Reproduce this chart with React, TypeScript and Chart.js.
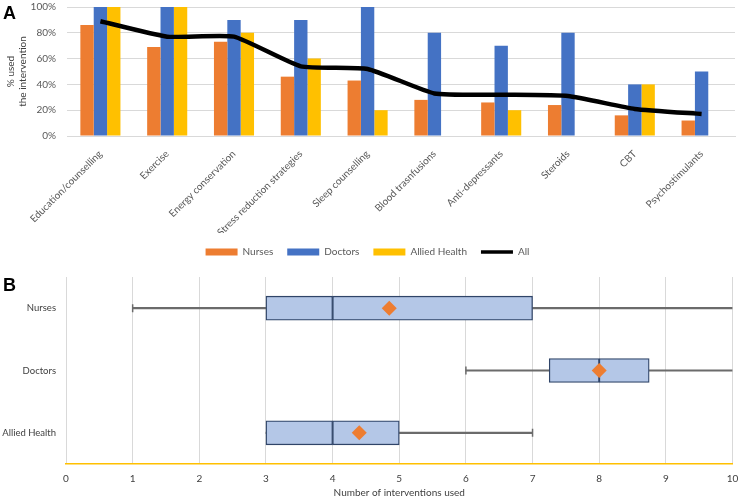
import React, { useEffect, useRef } from 'react';
import { Chart, registerables } from 'chart.js';

Chart.register(...registerables);

// ---------- Panel A data ----------
const categories = [
  'Education/counselling',
  'Exercise',
  'Energy conservation',
  'Stress reduction strategies',
  'Sleep counselling',
  'Blood trasnfusions',
  'Anti-depressants',
  'Steroids',
  'CBT',
  'Psychostimulants',
];
const nurses = [86, 69, 73, 46, 43, 28, 26, 24, 16, 12];
const doctors = [100, 100, 90, 90, 100, 80, 70, 80, 40, 50];
const allied = [100, 100, 80, 60, 20, 0, 20, 0, 40, 0];
const allStaff = [89, 77, 77, 54, 52, 33, 32, 31, 21, 17];
const yTicksA = [0, 20, 40, 60, 80, 100];

// ---------- Panel B data ----------
const groups = ['Nurses', 'Doctors', 'Allied Health'];
const minVals = [1, 6, 3];
const q1Vals = [3, 7.25, 3];
const medianVals = [4, 8, 4];
const q3Vals = [7, 8.75, 5];
const maxVals = [10, 10, 7];
const meanVals = [4.85, 8, 4.4];
const xTicksB = [0, 1, 2, 3, 4, 5, 6, 7, 8, 9, 10];

const FONT = 'Lato, "Open Sans", sans-serif';

export default function App() {
  const refA = useRef<HTMLCanvasElement>(null);
  const refB = useRef<HTMLCanvasElement>(null);

  useEffect(() => {
    const barCommon = { categoryPercentage: 0.6, barPercentage: 1, order: 2, borderWidth: 0 };
    const chartA = new Chart(refA.current as HTMLCanvasElement, {
      type: 'bar',
      data: {
        labels: categories,
        datasets: [
          { label: 'Nurses', data: nurses, backgroundColor: '#ED7D31', ...barCommon } as any,
          { label: 'Doctors', data: doctors, backgroundColor: '#4472C4', ...barCommon } as any,
          { label: 'Allied Health', data: allied, backgroundColor: '#FFC000', ...barCommon } as any,
          {
            type: 'line',
            label: 'All',
            data: allStaff,
            borderColor: '#000000',
            backgroundColor: '#000000',
            borderWidth: 4.5,
            pointRadius: 0,
            tension: 0.15,
            order: 1,
          } as any,
        ],
      },
      options: {
        animation: false,
        responsive: false,
        layout: { padding: { top: 7, right: 5, left: 0, bottom: 0 } },
        plugins: {
          tooltip: { enabled: false },
          legend: {
            position: 'bottom',
            labels: {
              usePointStyle: true,
              pointStyleWidth: 32,
              boxHeight: 7,
              padding: 14,
              color: '#595959',
              font: { family: FONT, size: 10 },
              sort: (a: any, b: any) => a.datasetIndex - b.datasetIndex,
              generateLabels: (chart: any) => {
                const items = (Chart.defaults.plugins.legend.labels as any).generateLabels(chart);
                return items.map((it: any) => {
                  const ds = chart.data.datasets[it.datasetIndex];
                  if (ds.type === 'line') {
                    return { ...it, pointStyle: 'line', lineWidth: 3.5, strokeStyle: '#000000' };
                  }
                  return { ...it, pointStyle: 'rect', lineWidth: 0 };
                });
              },
            },
          },
        },
        scales: {
          x: {
            grid: { display: false },
            border: { color: '#d9d9d9' },
            ticks: {
              minRotation: 45,
              maxRotation: 45,
              autoSkip: false,
              padding: 4,
              color: '#595959',
              font: { family: FONT, size: 10 },
            },
            afterFit: (s: any) => {
              s.height = 97;
            },
          },
          y: {
            min: 0,
            max: 100,
            afterBuildTicks: (s: any) => {
              s.ticks = yTicksA.map((v) => ({ value: v }));
            },
            ticks: {
              callback: (v: any) => `${v}%`,
              padding: 11,
              color: '#595959',
              font: { family: FONT, size: 10 },
            },
            grid: { color: '#d9d9d9', drawTicks: false },
            border: { display: false },
            title: {
              display: true,
              text: ['% used', 'the intervention'],
              color: '#404040',
              font: { family: FONT, size: 10 },
              padding: { top: 5, bottom: 4 },
            },
            afterFit: (s: any) => {
              s.width = 67;
              s.paddingTop = 0;
              s.paddingBottom = 0;
            },
          },
        },
      } as any,
    });

    const caps: { x: number; y: string }[] = [];
    groups.forEach((g, i) => {
      if (minVals[i] < q1Vals[i]) caps.push({ x: minVals[i], y: g });
      if (maxVals[i] > q3Vals[i] && maxVals[i] < 10) caps.push({ x: maxVals[i], y: g });
    });

    const whisker = { backgroundColor: '#6b6b6b', barThickness: 1.5, grouped: false, order: 3, borderWidth: 0 };
    const box = {
      backgroundColor: '#B4C7E7',
      borderColor: '#2F4468',
      borderWidth: 1.3,
      borderSkipped: false,
      barThickness: 24,
      grouped: false,
      order: 2,
    };

    const chartB = new Chart(refB.current as HTMLCanvasElement, {
      type: 'bar',
      data: {
        labels: groups,
        datasets: [
          { label: 'low whisker', data: groups.map((_, i) => [minVals[i], q1Vals[i]]), ...whisker } as any,
          { label: 'high whisker', data: groups.map((_, i) => [q3Vals[i], maxVals[i]]), ...whisker } as any,
          { label: 'Q1-median', data: groups.map((_, i) => [q1Vals[i], medianVals[i]]), ...box } as any,
          { label: 'median-Q3', data: groups.map((_, i) => [medianVals[i], q3Vals[i]]), ...box } as any,
          {
            type: 'scatter',
            label: 'caps',
            data: caps,
            pointStyle: 'line',
            rotation: 90,
            radius: 4,
            borderColor: '#6b6b6b',
            borderWidth: 1.5,
            order: 1,
          } as any,
          {
            type: 'scatter',
            label: 'mean',
            data: meanVals.map((m, i) => ({ x: m, y: groups[i] })),
            pointStyle: 'rectRot',
            radius: 7.5,
            backgroundColor: '#ED7D31',
            borderWidth: 0,
            order: 0,
          } as any,
        ],
      },
      options: {
        indexAxis: 'y',
        animation: false,
        responsive: false,
        layout: { padding: { top: 15, right: 7, left: 0, bottom: 0 } },
        plugins: { legend: { display: false }, tooltip: { enabled: false } },
        scales: {
          x: {
            type: 'linear',
            min: 0,
            max: 10,
            afterBuildTicks: (s: any) => {
              s.ticks = xTicksB.map((v) => ({ value: v }));
            },
            ticks: { padding: 9, color: '#404040', font: { family: FONT, size: 10 } },
            grid: { color: '#d9d9d9', drawTicks: false },
            border: { color: '#FFC000', width: 1.5 },
            title: {
              display: true,
              text: 'Number of interventions used',
              color: '#404040',
              font: { family: FONT, size: 10 },
              padding: { top: 4, bottom: 3 },
            },
            afterFit: (s: any) => {
              s.height = 38;
              s.paddingLeft = 0;
              s.paddingRight = 0;
            },
          },
          y: {
            type: 'category',
            offset: true,
            grid: { display: false, drawTicks: false },
            border: { display: false },
            ticks: { padding: 10, color: '#404040', font: { family: FONT, size: 9.5 } },
            afterFit: (s: any) => {
              s.width = 66;
              s.paddingTop = 0;
              s.paddingBottom = 0;
            },
          },
        },
      } as any,
    });

    return () => {
      chartA.destroy();
      chartB.destroy();
    };
  }, []);

  const letter: React.CSSProperties = {
    position: 'absolute',
    left: 3,
    fontFamily: '"Liberation Sans", Arial, sans-serif',
    fontWeight: 'bold',
    fontSize: 18,
    lineHeight: '18px',
    color: '#000',
  };

  return (
    <div style={{ position: 'absolute', left: 0, top: 0, width: 740, height: 502, background: '#fff' }}>
      <canvas ref={refA} width={740} height={267} style={{ position: 'absolute', left: 0, top: 0 }} />
      <canvas ref={refB} width={740} height={240} style={{ position: 'absolute', left: 0, top: 262 }} />
      <div style={{ ...letter, top: 4 }}>A</div>
      <div style={{ ...letter, top: 276 }}>B</div>
    </div>
  );
}
